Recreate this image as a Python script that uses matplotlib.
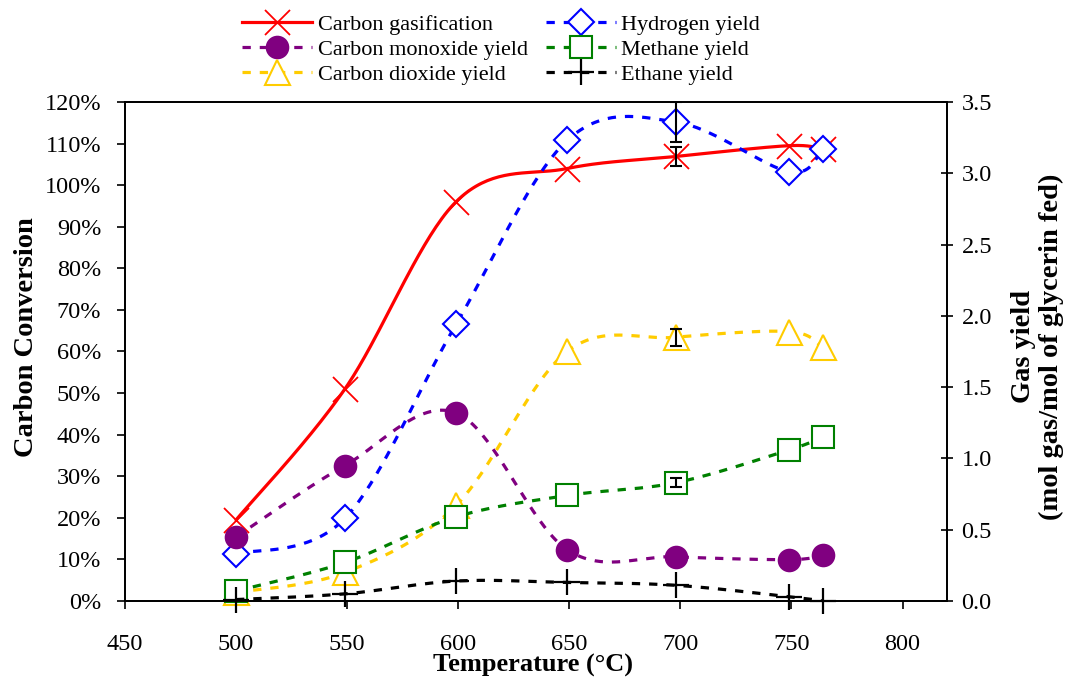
import numpy as np
import matplotlib.pyplot as plt
from matplotlib.ticker import FuncFormatter, MultipleLocator

plt.rcParams['font.family'] = ['Liberation Serif', 'DejaVu Serif']

# Reactor temperatures (°C)
temps = [500, 549, 599, 649, 698, 749, 764]

# Carbon conversion (%) -> left axis
carbon = [19.5, 51.0, 96.0, 104.0, 106.9, 109.5, 108.6]

# Gas yields (mol gas / mol glycerin fed) -> right axis
h2 = [0.33, 0.58, 1.94, 3.23, 3.36, 3.01, 3.17]
co = [0.45, 0.95, 1.32, 0.36, 0.31, 0.29, 0.32]
co2 = [0.06, 0.20, 0.67, 1.75, 1.85, 1.89, 1.78]
ch4 = [0.07, 0.27, 0.59, 0.74, 0.83, 1.06, 1.15]
c2h6 = [0.01, 0.05, 0.14, 0.13, 0.11, 0.03, 0.00]

# replicate runs were only done at 698 °C
err_idx = 4
carbon_err = 2.3
h2_err = 0.14
co2_err = 0.06
ch4_err = 0.03


def smooth(x, y, n=40):
    """Bezier smoothing through every point (same idea as spreadsheet 'smoothed line')."""
    p = np.column_stack([x, y]).astype(float)
    p = np.vstack([p[0], p, p[-1]])
    t = np.linspace(0, 1, n)[:, None]
    out = []
    for i in range(1, len(p) - 2):
        p0, p1, p2, p3 = p[i - 1], p[i], p[i + 1], p[i + 2]
        c1 = p1 + (p2 - p0) / 6
        c2 = p2 - (p3 - p1) / 6
        seg = (1 - t) ** 3 * p1 + 3 * (1 - t) ** 2 * t * c1 + 3 * (1 - t) * t ** 2 * c2 + t ** 3 * p2
        out.append(seg if i == 1 else seg[1:])
    out = np.vstack(out)
    return out[:, 0], out[:, 1]


fig = plt.figure(figsize=(10.71, 6.8), dpi=100)
ax = fig.add_axes([0.1167, 0.1162, 0.7675, 0.7338])
ax2 = ax.twinx()

lw = 2.3
dash = (2.6, 2.8)

# primary axis: carbon conversion
sx, sy = smooth(temps, carbon)
ax.plot(sx, sy, color='#FF0000', lw=lw, solid_capstyle='round')
ax.plot(temps, carbon, ls='none', marker='x', ms=18, mew=1.3, color='#FF0000', clip_on=False)
ax.errorbar([temps[err_idx]], [carbon[err_idx]], yerr=[carbon_err], fmt='none',
            ecolor='black', elinewidth=1.5, capsize=4.3, capthick=1.5)

series = [
    (h2, '#0000FF', dict(marker='D', ms=13, mfc='white', mew=1.5)),
    (co, '#800080', dict(marker='o', ms=17, mfc='#800080', mew=0)),
    (co2, '#FFCC00', dict(marker='^', ms=18, mfc='white', mew=1.5)),
    (ch4, '#008000', dict(marker='s', ms=16, mfc='white', mew=1.5)),
    (c2h6, '#000000', dict(marker='+', ms=19, mew=1.6)),
]
for vals, col, mk in series:
    sx, sy = smooth(temps, vals)
    ax2.plot(sx, sy, color=col, lw=lw, dashes=dash, dash_capstyle='butt')
    ax2.plot(temps, vals, ls='none', color=col, mec=col, clip_on=False, **mk)

for vals, e in [(h2, h2_err), (co2, co2_err), (ch4, ch4_err)]:
    ax2.errorbar([temps[err_idx]], [vals[err_idx]], yerr=[e], fmt='none',
                 ecolor='black', elinewidth=1.5, capsize=4.3, capthick=1.5)

# axes
ax.set_xlim(450, 820)
ax.xaxis.set_major_locator(MultipleLocator(50))
ax.set_ylim(0, 120)
ax.yaxis.set_major_locator(MultipleLocator(10))
ax.yaxis.set_major_formatter(FuncFormatter(lambda v, p: f'{v:.0f}%'))
ax2.set_ylim(0, 3.5)
ax2.yaxis.set_major_locator(MultipleLocator(0.5))
ax2.yaxis.set_major_formatter(FuncFormatter(lambda v, p: f'{v:.1f}'))

for a in (ax, ax2):
    for s in a.spines.values():
        s.set_linewidth(1.3)
ax.tick_params(axis='x', direction='out', length=6, width=1.2, labelsize=17.5, pad=18)
ax.tick_params(axis='y', direction='out', length=6, width=1.2, labelsize=17.5, pad=11)
ax2.tick_params(axis='y', direction='inout', length=9, width=1.2, labelsize=17.5, pad=6)

fig.text(0.4977, 0.022, 'Temperature (°C)', ha='center', va='center', fontsize=19, fontweight='bold')
fig.text(0.025, 0.504, 'Carbon Conversion', ha='center', va='center', rotation=90,
         fontsize=20.5, fontweight='bold')
fig.text(0.969, 0.49, 'Gas yield\n(mol gas/mol of glycerin fed)', ha='center', va='center',
         rotation=90, multialignment='center', linespacing=1.15, fontsize=20.5, fontweight='bold')

# legend
h = []
h.append(plt.Line2D([], [], color='#FF0000', lw=lw, marker='x', ms=18, mew=1.3))
legend_marks = {id(v): (c, m) for v, c, m in series}
labels_map = [(co, 'Carbon monoxide yield'), (co2, 'Carbon dioxide yield'),
              (h2, 'Hydrogen yield'), (ch4, 'Methane yield'), (c2h6, 'Ethane yield')]
labels = ['Carbon gasification']
for vals, lab in labels_map:
    c, m = legend_marks[id(vals)]
    h.append(plt.Line2D([], [], color=c, mec=c, lw=lw, dashes=dash, dash_capstyle='butt', **m))
    labels.append(lab)

fig.legend(h, labels, loc='upper center', bbox_to_anchor=(0.468, 0.986), ncol=2, frameon=False,
           fontsize=16, handlelength=3.15, handletextpad=0.25, columnspacing=0.8,
           labelspacing=0.2, borderaxespad=0, borderpad=0.2)

fig.savefig('out.png', dpi=100)
